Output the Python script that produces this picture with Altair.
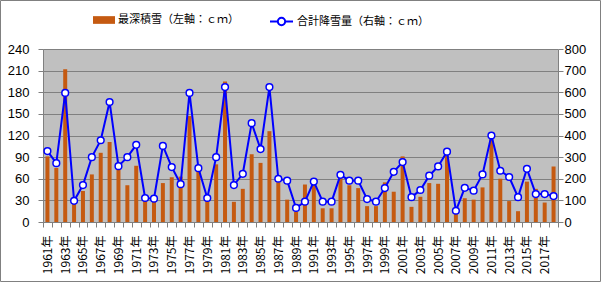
import altair as alt
import pandas as pd

# Years and yearly snow observations
years = list(range(1961, 2019))

# Max snow depth (cm), left axis
max_depth = [
    91, 75, 212, 25, 43, 66, 96, 111, 73, 51,
    78, 30, 29, 54, 62, 63, 147, 70, 30, 80,
    195, 28, 46, 94, 82, 126, 55, 31, 14, 52,
    52, 19, 19, 63, 51, 47, 22, 22, 55, 42,
    91, 21, 35, 54, 53, 92, 11, 33, 31, 48,
    115, 60, 29, 15, 56, 46, 27, 77,
]

# Total snowfall (cm), right axis
total_snow = [
    328, 272, 597, 98, 171, 300, 378, 555, 258, 300,
    357, 111, 108, 352, 254, 175, 597, 249, 111, 300,
    624, 171, 223, 457, 337, 624, 200, 191, 65, 94,
    187, 94, 94, 218, 191, 191, 106, 94, 157, 232,
    277, 115, 148, 214, 257, 325, 52, 158, 145, 220,
    400, 237, 208, 115, 246, 129, 129, 120,
]

depth_label = "最深積雪（左軸：ｃｍ）"
snow_label = "合計降雪量（右軸：ｃｍ）"

left_ticks = [0, 30, 60, 90, 120, 150, 180, 210, 240]
right_ticks = [0, 100, 200, 300, 400, 500, 600, 700, 800]

df = pd.DataFrame({
    "year": years,
    "depth": max_depth,
    "snow": total_snow,
    "s1": depth_label,
    "s2": snow_label,
})

GRAY = "#808080"
BAR = "#C55A11"
BLUE = "#0000FF"
NUM_FONT = "Liberation Sans Narrow, Liberation Sans, Arial"
JP_FONT = "Noto Sans CJK JP"

x_enc = alt.X(
    "year:O",
    scale=alt.Scale(paddingInner=0, paddingOuter=0),
    axis=alt.Axis(
        title=None,
        labelAngle=270,
        labelExpr="datum.value % 2 == 1 ? datum.label + '年' : ''",
        labelOverlap=False,
        labelFont=JP_FONT,
        labelFontSize=12,
        labelColor="black",
        labelPadding=8,
        tickBand="extent",
        tickSize=5,
        tickColor=GRAY,
        domainColor=GRAY,
        grid=False,
    ),
)

base = alt.Chart(df)

bars = base.mark_bar(width={"band": 0.45}).encode(
    x=x_enc,
    y=alt.Y(
        "depth:Q",
        scale=alt.Scale(domain=[0, 240], nice=False),
        axis=alt.Axis(
            title=None,
            orient="left",
            values=left_ticks,
            grid=True,
            gridColor=GRAY,
            gridWidth=1,
            tickSize=5,
            tickColor=GRAY,
            domainColor=GRAY,
            labelFont=NUM_FONT,
            labelFontSize=13,
            labelColor="black",
            labelPadding=9,
        ),
    ),
    fill=alt.Fill(
        "s1:N",
        scale=alt.Scale(domain=[depth_label], range=[BAR]),
        legend=alt.Legend(
            title=None,
            orient="none",
            legendX=50,
            legendY=-40,
            padding=0,
            symbolType="M-1,-0.35H1V0.35H-1Z",
            symbolSize=484,
            symbolStrokeWidth=0,
            labelFont=JP_FONT,
            labelFontSize=11,
            labelColor="black",
            labelOffset=3,
            labelLimit=400,
        ),
    ),
)

snow_y = alt.Y(
    "snow:Q",
    scale=alt.Scale(domain=[0, 800], nice=False),
    axis=alt.Axis(
        title=None,
        orient="right",
        values=right_ticks,
        grid=False,
        tickSize=5,
        tickColor=GRAY,
        domainColor=GRAY,
        labelFont=NUM_FONT,
        labelFontSize=13,
        labelColor="black",
        labelPadding=1,
    ),
)

line = base.mark_line(strokeWidth=2).encode(
    x=x_enc,
    y=snow_y,
    stroke=alt.Stroke(
        "s2:N",
        scale=alt.Scale(domain=[snow_label], range=[BLUE]),
        legend=alt.Legend(
            title=None,
            orient="none",
            legendX=226,
            legendY=-40,
            padding=0,
            symbolType="M-1,0H-0.32M0.32,0H1M0.32,0A0.32,0.32,0,1,1,-0.32,0A0.32,0.32,0,1,1,0.32,0Z",
            symbolSize=529,
            symbolStrokeWidth=2,
            symbolFillColor="white",
            labelFont=JP_FONT,
            labelFontSize=11,
            labelColor="black",
            labelOffset=3,
            labelLimit=400,
        ),
    ),
)

points = base.mark_point(
    filled=True, fill="white", stroke=BLUE, strokeWidth=1.5, size=45, opacity=1
).encode(x=x_enc, y=snow_y)

snow_layer = alt.layer(line, points)

# Thin frame around the whole chart
frame = alt.Chart(pd.DataFrame({"k": [0]})).mark_rect(
    fill=None, stroke=GRAY, strokeWidth=1, clip=False
).encode(
    x=alt.value(-42.5),
    x2=alt.value(557.5),
    y=alt.value(-48.5),
    y2=alt.value(232.5),
)

chart = (
    alt.layer(bars, snow_layer, frame)
    .resolve_scale(y="independent")
    .properties(
        width=515,
        height=173,
        autosize=alt.AutoSizeParams(type="none"),
        padding={"left": 43, "top": 49, "right": 44, "bottom": 61},
        background="white",
    )
    .configure_view(fill="#C0C0C0", stroke=None)
)

chart.save("out.html", embed_options={"renderer": "svg", "actions": False})
